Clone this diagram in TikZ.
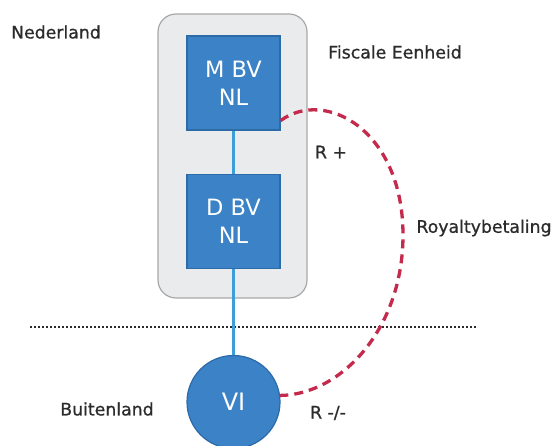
\documentclass[tikz,border=0pt]{standalone}
\usepackage{fontspec}
\setmainfont{DejaVu Sans}
\newfontfamily\lblfont[FakeBold=0.8]{DejaVu Sans}
\usetikzlibrary{arrows.meta}
\definecolor{boxblue}{HTML}{3B82C6}
\definecolor{boxedge}{HTML}{2C6AA8}
\definecolor{linkblue}{HTML}{3C9FD8}
\definecolor{royred}{HTML}{C42A4C}
\definecolor{panelgray}{HTML}{EAEBEC}
\definecolor{paneledge}{HTML}{A8A8A8}
\definecolor{txt}{HTML}{2B2B2B}
\tikzset{
  lbl/.style={text=txt, font=\lblfont\fontsize{17.3}{20}\selectfont, inner sep=0pt},
  entity/.style={draw=boxedge, line width=1.2pt, fill=boxblue, text=white, minimum width=93pt, minimum height=94pt, align=center, font=\fontsize{22.5}{28}\selectfont, inner sep=0pt},
  person/.style={circle, draw=boxedge, line width=1.2pt, fill=boxblue, text=white, minimum size=93pt, font=\fontsize{24}{28}\selectfont, inner sep=0pt},
  panel/.style={draw=paneledge, line width=1.2pt, fill=panelgray, rounded corners=18pt, minimum width=149pt, minimum height=284pt, inner sep=0pt},
  link/.style={draw=linkblue, line width=2.4pt},
  border/.style={draw=txt, line width=2pt, dotted},
  payment/.style={draw=royred, line width=3.3pt, dash pattern=on 9pt off 6pt}
}
\begin{document}
\begin{tikzpicture}[x=1pt, y=-1pt]
\useasboundingbox (0,0) rectangle (558,446);
\node[panel] (fe) at (232.5,156) {};
\node[entity] (mbv) at (233.5,83) {M BV\\NL};
\node[entity] (dbv) at (233.5,221.5) {D BV\\NL};
\coordinate (bl) at (30,327);
\coordinate (br) at (476,327);
\draw[border] (bl) -- (br);
\node[person] (vi) at (233.5,402) {VI};
\draw[link] (mbv.south) -- (dbv.north);
\draw[link] (dbv.south) -- (vi.north);
\coordinate (s) at ([yshift=10pt]mbv.south east);
\coordinate (m) at (403,235);
\draw[payment] (s) .. controls (325,88) and (403,130) .. (m)
  .. controls (403,330) and (340,395) .. (vi.8);
\node[lbl] (ned) at (56,32) {Nederland};
\node[lbl] (fis) at (395,52) {Fiscale Eenheid};
\node[lbl] (rp) at (331,152) {R +};
\node[lbl] (roy) at (484,228) {Royaltybetaling};
\node[lbl] (bui) at (107,409) {Buitenland};
\node[lbl] (rm) at (328,413) {R -/-};
\end{tikzpicture}
\end{document}
